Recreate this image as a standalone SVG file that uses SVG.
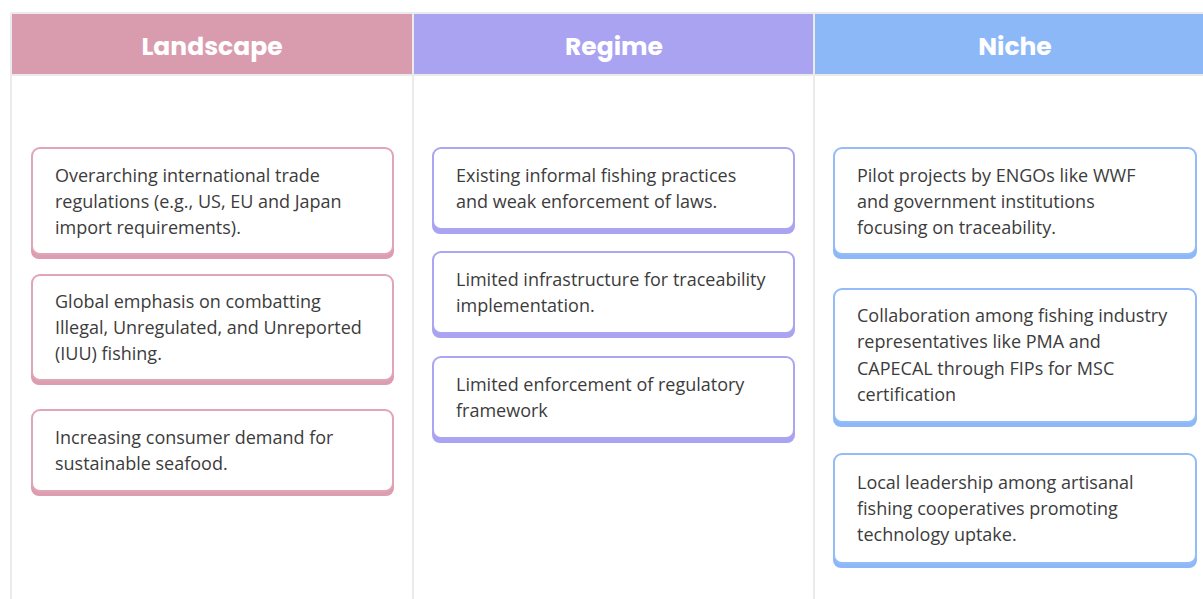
<svg xmlns="http://www.w3.org/2000/svg" width="1203" height="599" viewBox="0 0 1203 599">
<style>
.grid{fill:none;stroke:#ebebeb;stroke-width:2}
.hd{font-family:"Poppins","Inter","Lato",sans-serif;font-weight:700;font-size:25px;fill:#ffffff;text-anchor:middle}
.tx{font-family:"Open Sans","Noto Sans",sans-serif;font-size:18px;fill:#3c3c3c}
.cL{fill:#ffffff;stroke:#e0a6b7;stroke-width:2}
.sL{fill:#dc9db0}
.cR{fill:#ffffff;stroke:#aca6f2;stroke-width:2}
.sR{fill:#a9a3f2}
.cN{fill:#ffffff;stroke:#93bcf8;stroke-width:2}
.sN{fill:#8db8f8}
</style>
<rect width="1203" height="599" fill="#ffffff"/>
<g id="table">
<rect x="12" y="14" width="400" height="60" fill="#d99bae"/>
<rect x="414" y="14" width="400" height="60" fill="#a9a3f2"/>
<rect x="815" y="14" width="388" height="60" fill="#8db8f8"/>
<path class="grid" d="M11 13 H1203 M11 75 H1203 M11 13 V599 M413 13 V599 M814 13 V599"/>
<text class="hd" x="212" y="55">Landscape</text>
<text class="hd" x="614" y="55">Regime</text>
<text class="hd" x="1015" y="55">Niche</text>
</g>
<g id="landscape-1">
<rect class="sL" x="31" y="152" width="363" height="107" rx="8"/>
<rect class="cL" x="32" y="148" width="361" height="106" rx="8"/>
<text class="tx" x="55" y="182">Overarching international trade</text>
<text class="tx" x="55" y="208">regulations (e.g., US, EU and Japan</text>
<text class="tx" x="55" y="234">import requirements).</text>
</g>
<g id="landscape-2">
<rect class="sL" x="31" y="279" width="363" height="106" rx="8"/>
<rect class="cL" x="32" y="275" width="361" height="105" rx="8"/>
<text class="tx" x="55" y="308">Global emphasis on combatting</text>
<text class="tx" x="55" y="334">Illegal, Unregulated, and Unreported</text>
<text class="tx" x="55" y="360">(IUU) fishing.</text>
</g>
<g id="landscape-3">
<rect class="sL" x="31" y="414" width="363" height="82" rx="8"/>
<rect class="cL" x="32" y="410" width="361" height="81" rx="8"/>
<text class="tx" x="55" y="444">Increasing consumer demand for</text>
<text class="tx" x="55" y="470">sustainable seafood.</text>
</g>
<g id="regime-1">
<rect class="sR" x="432" y="152" width="363" height="82" rx="8"/>
<rect class="cR" x="433" y="148" width="361" height="81" rx="8"/>
<text class="tx" x="456" y="182">Existing informal fishing practices</text>
<text class="tx" x="456" y="208">and weak enforcement of laws.</text>
</g>
<g id="regime-2">
<rect class="sR" x="432" y="256" width="363" height="82" rx="8"/>
<rect class="cR" x="433" y="252" width="361" height="81" rx="8"/>
<text class="tx" x="456" y="286">Limited infrastructure for traceability</text>
<text class="tx" x="456" y="312">implementation.</text>
</g>
<g id="regime-3">
<rect class="sR" x="432" y="361" width="363" height="82" rx="8"/>
<rect class="cR" x="433" y="357" width="361" height="81" rx="8"/>
<text class="tx" x="456" y="391">Limited enforcement of regulatory</text>
<text class="tx" x="456" y="417">framework</text>
</g>
<g id="niche-1">
<rect class="sN" x="833" y="152" width="364" height="107" rx="8"/>
<rect class="cN" x="834" y="148" width="362" height="106" rx="8"/>
<text class="tx" x="857" y="182">Pilot projects by ENGOs like WWF</text>
<text class="tx" x="857" y="208">and government institutions</text>
<text class="tx" x="857" y="234">focusing on traceability.</text>
</g>
<g id="niche-2">
<rect class="sN" x="833" y="293" width="364" height="134" rx="8"/>
<rect class="cN" x="834" y="289" width="362" height="133" rx="8"/>
<text class="tx" x="857" y="322">Collaboration among fishing industry</text>
<text class="tx" x="857" y="348">representatives like PMA and</text>
<text class="tx" x="857" y="375">CAPECAL through FIPs for MSC</text>
<text class="tx" x="857" y="401">certification</text>
</g>
<g id="niche-3">
<rect class="sN" x="833" y="458" width="364" height="110" rx="8"/>
<rect class="cN" x="834" y="454" width="362" height="109" rx="8"/>
<text class="tx" x="857" y="489">Local leadership among artisanal</text>
<text class="tx" x="857" y="515">fishing cooperatives promoting</text>
<text class="tx" x="857" y="541">technology uptake.</text>
</g>
</svg>
